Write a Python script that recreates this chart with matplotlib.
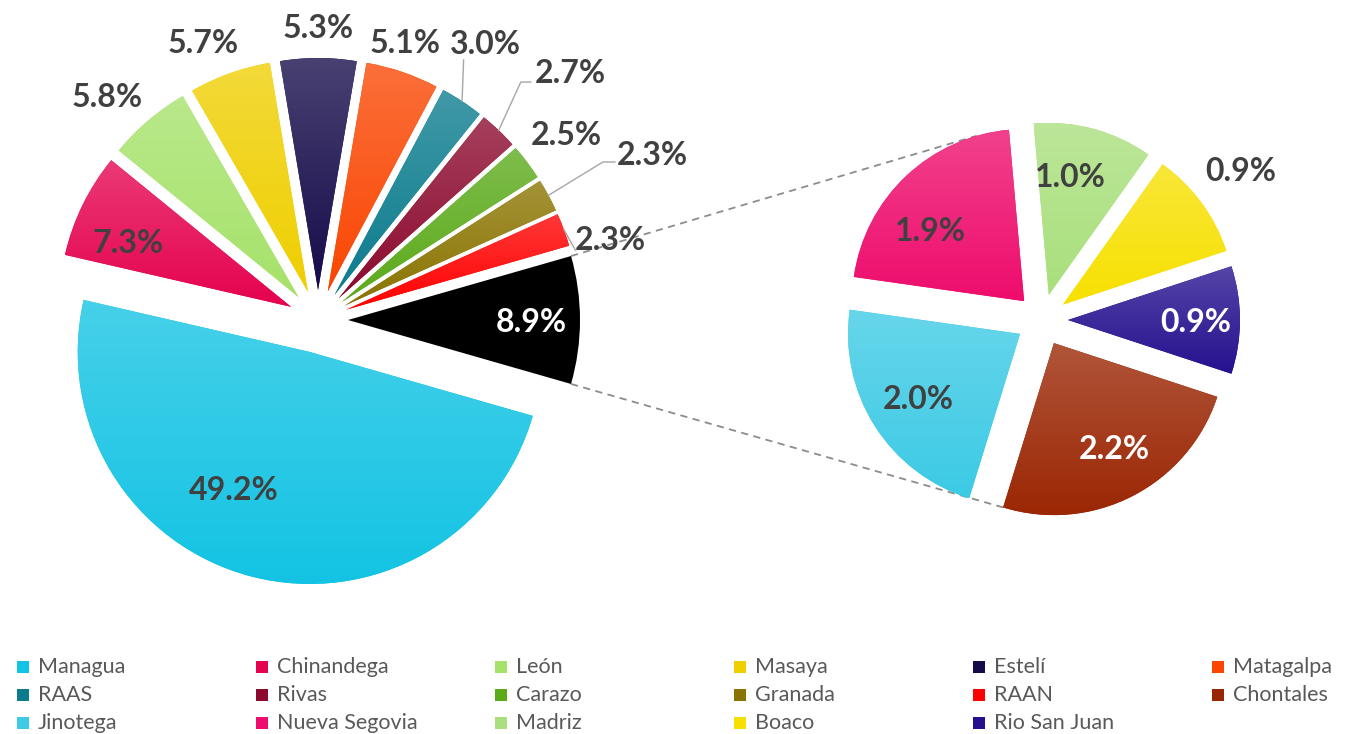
import numpy as np
import matplotlib.pyplot as plt
from matplotlib.patches import Rectangle
from matplotlib.colors import to_rgb

# main pie, listed counterclockwise starting with the grouped slice on the right
main_names = ['Otros', 'RAAN', 'Granada', 'Carazo', 'Rivas', 'RAAS', 'Matagalpa',
              'Estelí', 'Masaya', 'León', 'Chinandega', 'Managua']
main_values = [8.9, 2.3, 2.3, 2.5, 2.7, 3.0, 5.1, 5.3, 5.7, 5.8, 7.3, 49.2]
main_colors = ['#000000', '#FF0000', '#8A7400', '#5BAA1A', '#8C0A2E', '#0B7C8E',
               '#FA4602', '#160B4A', '#EFCF00', '#A6E26A', '#E5024E', '#12C3E3']

# second pie, breakdown of the 8.9% slice
sub_names = ['Rio San Juan', 'Boaco', 'Madriz', 'Nueva Segovia', 'Jinotega', 'Chontales']
sub_values = [0.9, 0.9, 1.0, 1.9, 2.0, 2.2]
sub_colors = ['#25118F', '#F7E000', '#A9DF7C', '#EE0C6C', '#3CCAE5', '#9A2502']

legend_order = ['Managua', 'Chinandega', 'León', 'Masaya', 'Estelí', 'Matagalpa',
                'RAAS', 'Rivas', 'Carazo', 'Granada', 'RAAN', 'Chontales',
                'Jinotega', 'Nueva Segovia', 'Madriz', 'Boaco', 'Rio San Juan']

W, H = 1345, 734
LBL = '#404040'

# label placement: (radius factor, angle shift, colour)
main_lbl = [(0.79, 0, 'white'), (1.18, -5, LBL), (1.48, -2, LBL), (1.21, 0, LBL),
            (1.40, -2, LBL), (1.27, 2.5, LBL), (1.13, 1.6, LBL), (1.14, 0, LBL),
            (1.17, 3, LBL), (1.20, 3, LBL), (0.76, 4, LBL), (0.67, -14.7, LBL)]
sub_lbl = [(0.74, 0, 'white'), (1.30, 1, LBL), (0.71, 5, LBL), (0.69, 9, LBL),
           (0.70, -0.5, LBL), (0.70, 3, 'white')]
# leader lines (label index -> offsets of the elbow and end from label centre, px)
leaders = {5: [(-22, 18), (-22, 18)], 4: [(-50, 11), (-40, 11)],
           2: [(-49, 9), (-37, 9)], 1: [(-35, 12), (-35, 12)]}


def shade(ax, w, col, mix=0.22):
    base = np.array(to_rgb(col))
    if base.sum() == 0:
        return
    top = base + (1 - base) * mix
    t = np.linspace(0, 1, 200)[:, None]
    grad = (top * (1 - t) + base * t)[:, None, :]
    v = w.get_path().vertices
    im = ax.imshow(grad, extent=(v[:, 0].min(), v[:, 0].max(), v[:, 1].min(), v[:, 1].max()),
                   aspect='auto', interpolation='bilinear', zorder=1.1)
    im.set_clip_path(w)


fig = plt.figure(figsize=(W / 100, H / 100), dpi=100)
ax = fig.add_axes([0, 0, 1, 1])

r1, c1 = 232, (318, H - 320)
r2, c2 = 172, (1042, H - 320)
start1 = -main_values[0] / sum(main_values) * 180
start2 = -sub_values[0] / sum(sub_values) * 180

expl1 = [30] * (len(main_values) - 1) + [33]
w1, _ = ax.pie(main_values, colors=main_colors, radius=r1, center=c1, explode=expl1,
               startangle=start1, counterclock=True, wedgeprops=dict(linewidth=0))
w2, _ = ax.pie(sub_values, colors=sub_colors, radius=r2, center=c2, explode=[26] * len(sub_values),
               startangle=start2, counterclock=True, wedgeprops=dict(linewidth=0))

for w, col in zip(list(w1) + list(w2), main_colors + sub_colors):
    shade(ax, w, col)


def put_labels(wedges, values, spec, leader=None):
    for i, (w, v, (d, shift, col)) in enumerate(zip(wedges, values, spec)):
        mid = np.deg2rad((w.theta1 + w.theta2) / 2)
        a = mid + np.deg2rad(shift)
        x = w.center[0] + w.r * d * np.cos(a)
        y = w.center[1] + w.r * d * np.sin(a)
        ax.text(x, y, f'{v:.1f}%', ha='center', va='center_baseline', fontsize=23,
                fontweight='bold', family='Lato', color=col, zorder=5)
        if leader and i in leader:
            sx = w.center[0] + w.r * np.cos(mid)
            sy = w.center[1] + w.r * np.sin(mid)
            pts = [(sx, sy)] + [(x + dx, y - dy) for dx, dy in leader[i]]
            ax.plot(*zip(*pts), color='#A6A6A6', lw=1, zorder=4)


put_labels(w1, main_values, main_lbl, leaders)
put_labels(w2, sub_values, sub_lbl)

# dashed connectors from the grouped slice to the second pie
other = w1[0]
a_top, a_bot = np.deg2rad(other.theta2), np.deg2rad(other.theta1)
p_top = (other.center[0] + r1 * np.cos(a_top), other.center[1] + r1 * np.sin(a_top))
p_bot = (other.center[0] + r1 * np.cos(a_bot), other.center[1] + r1 * np.sin(a_bot))
ns, ch = w2[3], w2[5]
q_top = (ns.center[0] + r2 * np.cos(np.deg2rad(106)), ns.center[1] + r2 * np.sin(np.deg2rad(106)))
q_bot = (ch.center[0] + r2 * np.cos(np.deg2rad(ch.theta1)), ch.center[1] + r2 * np.sin(np.deg2rad(ch.theta1)))
for p, q in [(p_top, q_top), (p_bot, q_bot)]:
    ax.plot([p[0], q[0]], [p[1], q[1]], color='#8C8C8C', lw=1.3, ls=(0, (4, 3)), zorder=0.5)

# legend, laid out row by row
color_of = dict(zip(main_names + sub_names, main_colors + sub_colors))
for i, name in enumerate(legend_order):
    row, col = divmod(i, 6)
    x = 17 + col * 239
    y = H - (667 + row * 28)
    ax.add_patch(Rectangle((x, y - 6), 12, 12, color=color_of[name], lw=0))
    ax.text(x + 21, y, name, va='center', ha='left', fontsize=15.5, family='Lato',
            color='#595959')

ax.set_xlim(0, W)
ax.set_ylim(0, H)
ax.set_aspect('equal')
ax.axis('off')
fig.savefig('out.png', dpi=100)
